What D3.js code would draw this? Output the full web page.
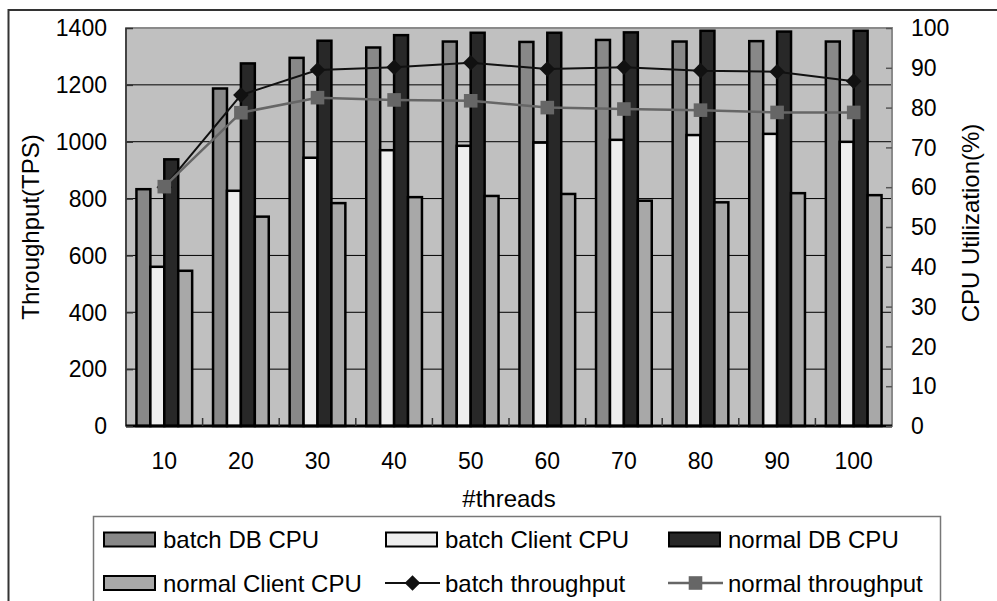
<!DOCTYPE html>
<html>
<head>
<meta charset="utf-8">
<script src="https://cdn.jsdelivr.net/npm/d3@7"></script>
<style>
  body { margin: 0; background: #fff; }
  text { font-family: "Liberation Sans", Arial, sans-serif; fill: #000; }
</style>
</head>
<body>
<svg id="chart" width="997" height="601"></svg>
<script>
// Thread counts on the x axis
const threads = [10, 20, 30, 40, 50, 60, 70, 80, 90, 100];

// CPU utilisation (%) — right axis
const batchDbCpu      = [59.5, 84.8, 92.5, 95.1, 96.6, 96.5, 97.0, 96.6, 96.7, 96.6];
const batchClientCpu  = [40.0, 59.1, 67.4, 69.3, 70.4, 71.2, 71.9, 73.1, 73.4, 71.4];
const normalDbCpu     = [67.0, 91.1, 96.8, 98.2, 98.8, 98.8, 98.9, 99.3, 99.1, 99.3];
const normalClientCpu = [39.0, 52.6, 56.0, 57.5, 57.8, 58.3, 56.6, 56.2, 58.5, 58.0];

// Throughput (TPS) — left axis
const batchThroughput  = [840, 1164, 1252, 1262, 1278, 1256, 1262, 1250, 1246, 1213];
const normalThroughput = [842, 1102, 1155, 1147, 1144, 1120, 1115, 1111, 1103, 1103];

// Tick values
const tpsTicks = [0, 200, 400, 600, 800, 1000, 1200, 1400];
const cpuTicks = [0, 10, 20, 30, 40, 50, 60, 70, 80, 90, 100];

const barSeries = [
  { name: "batch DB CPU",      values: batchDbCpu,      fill: "#888888" },
  { name: "batch Client CPU",  values: batchClientCpu,  fill: "#eeeeee" },
  { name: "normal DB CPU",     values: normalDbCpu,     fill: "#282828" },
  { name: "normal Client CPU", values: normalClientCpu, fill: "#a8a8a8" }
];
const lineSeries = [
  { name: "batch throughput",  values: batchThroughput,  color: "#111111", marker: "diamond" },
  { name: "normal throughput", values: normalThroughput, color: "#666666", marker: "square" }
];

// Marker shapes: an equal-sided diamond and a square
const markerPath = m => m === "square"
  ? "M-6.8,-6.8H6.8V6.8H-6.8Z"
  : "M0,-7.8L7.8,0L0,7.8L-7.8,0Z";

const svg = d3.select("#chart");
const plot = { left: 126, right: 892, top: 28, bottom: 426 };

// Outer chart frame (runs past the visible area on the right and bottom)
svg.append("rect")
  .attr("x", 8.5).attr("y", 10).attr("width", 1020).attr("height", 640)
  .attr("fill", "#fff").attr("stroke", "#333").attr("stroke-width", 2);

// Scales
const x = d3.scaleBand().domain(threads).range([plot.left, plot.right]).paddingInner(0).paddingOuter(0);
const xInner = d3.scaleBand().domain(barSeries.map(s => s.name))
  .range([0, x.bandwidth()]).paddingInner(0).paddingOuter(0.75);
const yL = d3.scaleLinear().domain([0, 1400]).range([plot.bottom, plot.top]);
const yR = d3.scaleLinear().domain([0, 100]).range([plot.bottom, plot.top]);

// Plot background
svg.append("rect")
  .attr("x", plot.left).attr("y", plot.top)
  .attr("width", plot.right - plot.left).attr("height", plot.bottom - plot.top)
  .attr("fill", "#c0c0c0");

// Horizontal gridlines
svg.append("g").selectAll("line")
  .data(tpsTicks.filter(t => t > 0 && t < 1400))
  .join("line")
  .attr("x1", plot.left).attr("x2", plot.right)
  .attr("y1", d => yL(d)).attr("y2", d => yL(d))
  .attr("stroke", "#000").attr("stroke-width", 1);

// Bars
const groups = svg.append("g").selectAll("g")
  .data(threads)
  .join("g")
  .attr("transform", d => `translate(${x(d)},0)`);

groups.selectAll("rect")
  .data((d, i) => barSeries.map(s => ({ s, v: s.values[i] })))
  .join("rect")
  .attr("x", d => xInner(d.s.name))
  .attr("y", d => yR(d.v))
  .attr("width", xInner.bandwidth())
  .attr("height", d => plot.bottom - yR(d.v))
  .attr("fill", d => d.s.fill)
  .attr("stroke", "#000")
  .attr("stroke-width", 2.5);

// Plot border, axes lines
svg.append("rect")
  .attr("x", plot.left).attr("y", plot.top)
  .attr("width", plot.right - plot.left).attr("height", plot.bottom - plot.top)
  .attr("fill", "none").attr("stroke", "#8a8a8a").attr("stroke-width", 2);
svg.append("line")
  .attr("x1", plot.left).attr("x2", plot.left).attr("y1", plot.top).attr("y2", plot.bottom)
  .attr("stroke", "#444").attr("stroke-width", 2);
svg.append("line")
  .attr("x1", plot.left).attr("x2", plot.right).attr("y1", plot.bottom).attr("y2", plot.bottom)
  .attr("stroke", "#000").attr("stroke-width", 3);

// Left axis (inward ticks)
const leftAxis = d3.axisRight(yL).tickValues(tpsTicks).tickSize(7).tickFormat("");
svg.append("g").attr("transform", `translate(${plot.left},0)`).call(leftAxis)
  .call(g => g.select(".domain").remove())
  .call(g => g.selectAll("line").attr("stroke", "#333").attr("stroke-width", 1.5));

// Right axis (inward ticks)
const rightAxis = d3.axisLeft(yR).tickValues(cpuTicks).tickSize(6).tickFormat("");
svg.append("g").attr("transform", `translate(${plot.right},0)`).call(rightAxis)
  .call(g => g.select(".domain").remove())
  .call(g => g.selectAll("line").attr("stroke", "#555").attr("stroke-width", 1.5));

// X ticks between categories
svg.append("g").selectAll("line")
  .data(threads.slice(1))
  .join("line")
  .attr("x1", d => x(d)).attr("x2", d => x(d))
  .attr("y1", plot.bottom).attr("y2", plot.bottom - 8)
  .attr("stroke", "#333").attr("stroke-width", 1.5);

// Throughput lines and markers (normal drawn over batch)
const line = d3.line().x(d => x(d.t) + x.bandwidth() / 2).y(d => yL(d.v));
lineSeries.forEach(s => {
  const pts = threads.map((t, i) => ({ t, v: s.values[i] }));
  svg.append("path").datum(pts)
    .attr("d", line).attr("fill", "none")
    .attr("stroke", s.color).attr("stroke-width", s.marker === "square" ? 2.5 : 2);
  svg.append("g").selectAll("path").data(pts).join("path")
    .attr("transform", d => `translate(${x(d.t) + x.bandwidth() / 2},${yL(d.v)})`)
    .attr("d", markerPath(s.marker)).attr("fill", s.color);
});

// Tick labels
const fs = 23;
svg.append("g").selectAll("text").data(tpsTicks).join("text")
  .attr("x", 107).attr("y", d => yL(d)).attr("dy", "0.36em")
  .attr("text-anchor", "end").attr("font-size", fs).text(d => d);
svg.append("g").selectAll("text").data(cpuTicks).join("text")
  .attr("x", 911).attr("y", d => yR(d)).attr("dy", "0.36em")
  .attr("text-anchor", "start").attr("font-size", fs).text(d => d);
svg.append("g").selectAll("text").data(threads).join("text")
  .attr("x", d => x(d) + x.bandwidth() / 2).attr("y", 461).attr("dy", "0.36em")
  .attr("text-anchor", "middle").attr("font-size", fs).text(d => d);

// Axis titles
svg.append("text")
  .attr("transform", `translate(39,${(plot.top + plot.bottom) / 2}) rotate(-90)`)
  .attr("text-anchor", "middle").attr("font-size", 24).text("Throughput(TPS)");
svg.append("text")
  .attr("transform", `translate(979,${(plot.top + plot.bottom) / 2 - 4}) rotate(-90)`)
  .attr("text-anchor", "middle").attr("font-size", 24).text("CPU Utilization(%)");
svg.append("text")
  .attr("x", (plot.left + plot.right) / 2).attr("y", 498).attr("dy", "0.36em")
  .attr("text-anchor", "middle").attr("font-size", 24).text("#threads");

// Legend
svg.append("rect")
  .attr("x", 93.5).attr("y", 516.5).attr("width", 847).attr("height", 120)
  .attr("fill", "#fff").attr("stroke", "#777").attr("stroke-width", 1.5);

const legendItems = [
  { kind: "bar", s: barSeries[0] }, { kind: "bar", s: barSeries[1] }, { kind: "bar", s: barSeries[2] },
  { kind: "bar", s: barSeries[3] }, { kind: "line", s: lineSeries[0] }, { kind: "line", s: lineSeries[1] }
];
const colX = [103, 385, 668];
const rowY = [539.5, 583];
legendItems.forEach((it, i) => {
  const cx = colX[i % 3], cy = rowY[Math.floor(i / 3)];
  const g = svg.append("g").attr("transform", `translate(${cx},${cy})`);
  if (it.kind === "bar") {
    g.append("rect").attr("x", 1).attr("y", -7).attr("width", 51).attr("height", 14)
      .attr("fill", it.s.fill).attr("stroke", "#000").attr("stroke-width", 2);
  } else {
    g.append("line").attr("x1", 0).attr("x2", 55).attr("y1", 0).attr("y2", 0)
      .attr("stroke", it.s.color).attr("stroke-width", it.s.marker === "square" ? 2.5 : 2);
    g.append("path").attr("transform", "translate(27.5,0)")
      .attr("d", markerPath(it.s.marker)).attr("fill", it.s.color);
  }
  g.append("text").attr("x", 60).attr("y", 0).attr("dy", "0.36em")
    .attr("font-size", 24).text(it.s.name);
});
</script>
</body>
</html>
